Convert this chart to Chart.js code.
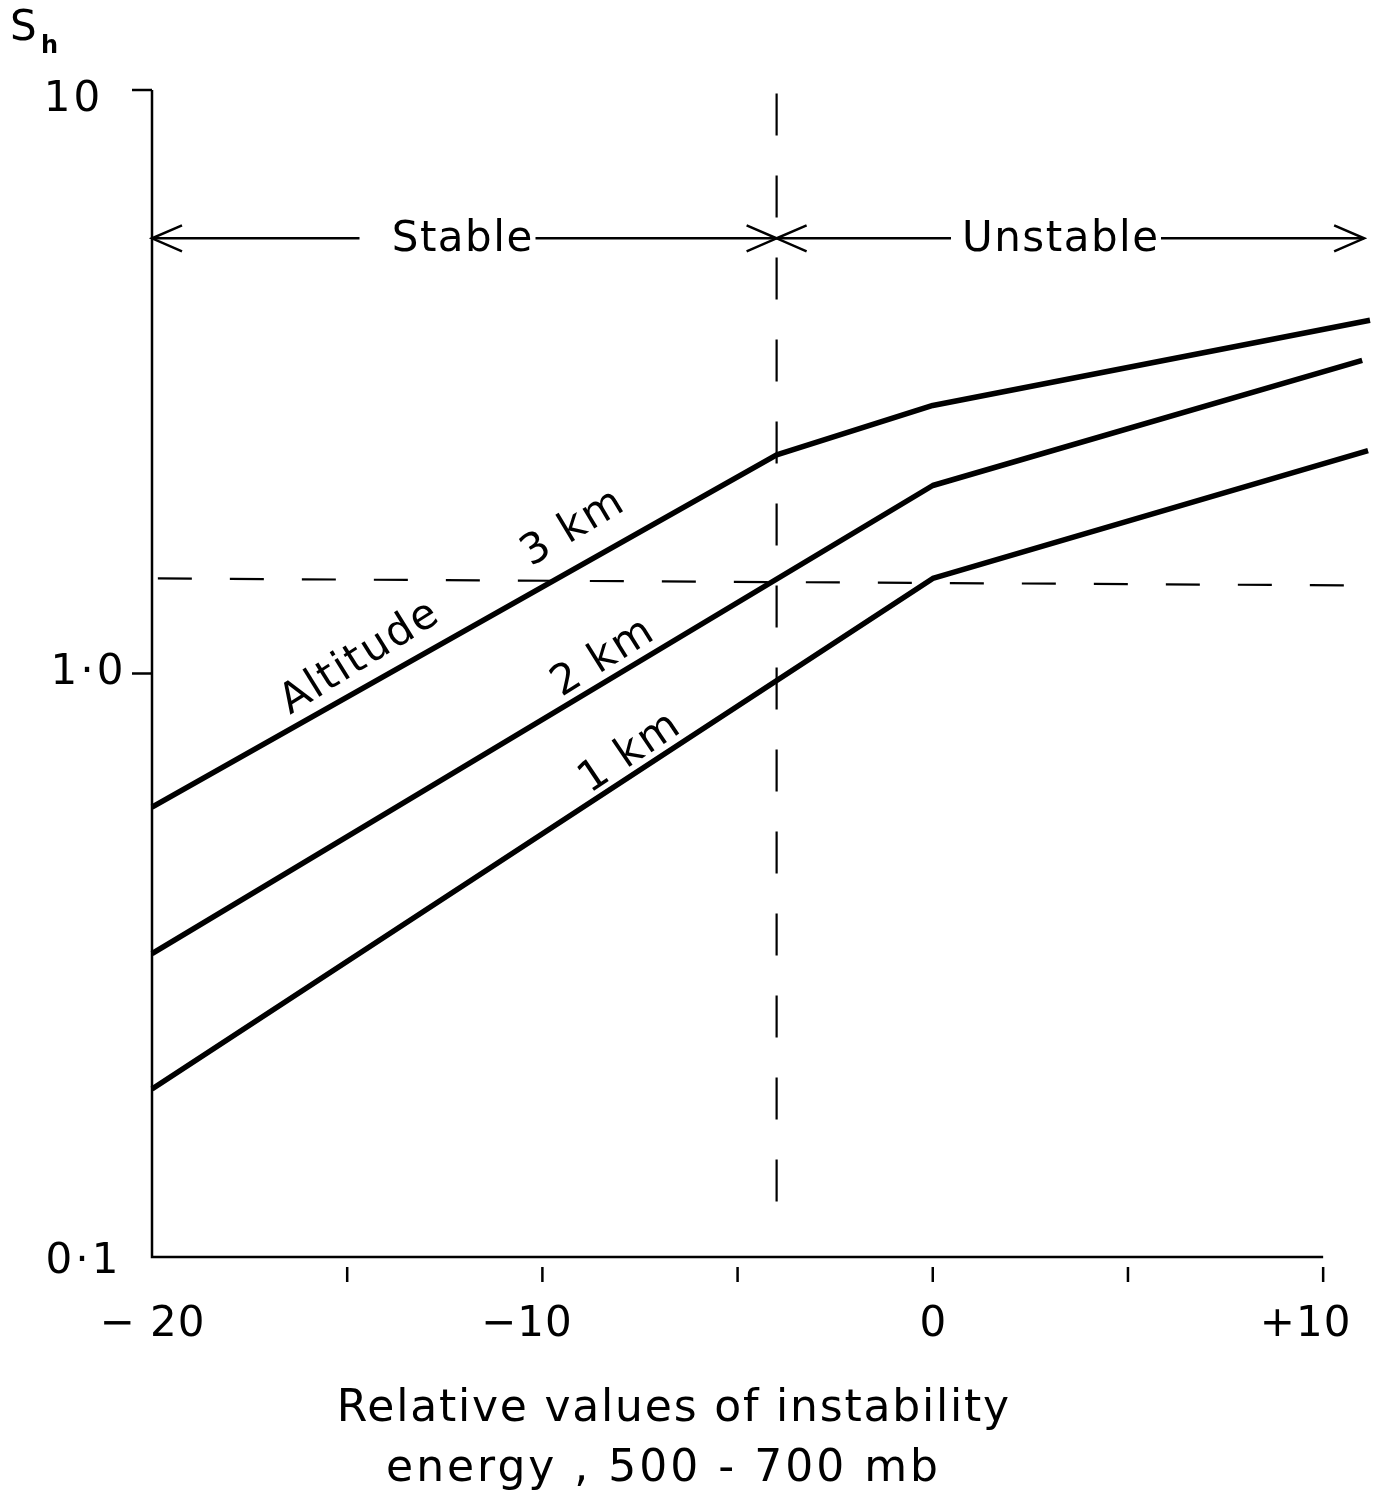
<!DOCTYPE html>
<html>
<head>
<meta charset="utf-8">
<script src="https://cdn.jsdelivr.net/npm/chart.js@4.4.1/dist/chart.umd.min.js"></script>
<style>
  html, body { margin: 0; padding: 0; background: #fff; }
  #wrap { width: 1380px; height: 1500px; position: relative; }
</style>
</head>
<body>
<div id="wrap"><canvas id="c" width="1380" height="1500"></canvas></div>
<script>
// ---- data ----
const km1X = [-20, 0, 11.15];
const km1Y = [0.194, 1.455, 2.41];
const km2X = [-20, 0, 11.0];
const km2Y = [0.331, 2.10, 3.44];
const km3X = [-20, -4, 0, 11.2];
const km3Y = [0.59, 2.37, 2.88, 4.03];

const hRefX = [-19.85, 11.15];
const hRefY = [1.455, 1.415];
const vRefX = [-4, -4];
const vRefY = [9.86, 0.108];

const xTickValues = [-20, -15, -10, -5, 0, 5, 10];
const xTickLabels = ['\u2212 20', '', '\u221210', '', '0', '', '+10'];
const yTickValues = [0.1, 1, 10];
const yTickLabels = ['0\u22c51', '1\u22c50', '10'];

const regionY = 5.57;
const stableRange = [-20, -4];
const unstableRange = [-4, 11.05];

const seriesLabels = [
  { text: 'Altitude', x: -14.68, y: 1.061, angle: -32 },
  { text: '3 km', x: -9.22, y: 1.77, angle: -31 },
  { text: '2 km', x: -8.45, y: 1.061, angle: -32 },
  { text: '1 km', x: -7.76, y: 0.729, angle: -34 }
];

const toPts = (xs, ys) => xs.map((x, i) => ({ x: x, y: ys[i] }));

const FONT = '"DejaVu Sans", sans-serif';

const solid = (data) => ({
  data: data, borderColor: '#000', borderWidth: 5.5, pointRadius: 0,
  tension: 0, fill: false, clip: false, borderCapStyle: 'butt', borderJoinStyle: 'round'
});
const dashed = (data, dash) => ({
  data: data, borderColor: '#000', borderWidth: 2.2, pointRadius: 0,
  tension: 0, fill: false, clip: false, borderDash: dash
});

const decor = {
  id: 'decor',
  afterDraw(chart) {
    const ctx = chart.ctx;
    const xs = chart.scales.x, ys = chart.scales.y;
    const X = v => xs.getPixelForValue(v);
    const Y = v => ys.getPixelForValue(v);
    const txt = (s, x, y, size, spacing, weight) => {
      ctx.font = (weight || '') + ' ' + size + 'px ' + FONT;
      ctx.letterSpacing = (spacing || 0) + 'px';
      ctx.fillText(s, x + (spacing || 0) / 2, y);
      ctx.letterSpacing = '0px';
    };
    ctx.save();
    ctx.strokeStyle = '#000';
    ctx.fillStyle = '#000';
    ctx.lineWidth = 2.5;
    ctx.lineCap = 'butt';

    // axes
    const x0 = X(-20), yb = Y(0.1), yt = Y(10), xr = X(10);
    ctx.beginPath();
    ctx.moveTo(x0, yt); ctx.lineTo(x0, yb); ctx.lineTo(xr, yb);
    ctx.stroke();

    // y ticks (pointing left)
    const yLabCenters = { 0.1: 82, 1: 87, 10: 72 };
    yTickValues.forEach((v, i) => {
      const py = Y(v);
      if (v !== 0.1) {
        ctx.beginPath(); ctx.moveTo(x0 - 20, py); ctx.lineTo(x0, py); ctx.stroke();
      }
      ctx.textAlign = 'center';
      ctx.textBaseline = 'middle';
      const off = (v === 10) ? 10 : (v === 0.1 ? 5 : 0);
      txt(yTickLabels[i], yLabCenters[v], py + off, 42, 3);
    });

    // x ticks (pointing down)
    xTickValues.forEach((v, i) => {
      const px = X(v);
      if (v !== -20) {
        ctx.beginPath(); ctx.moveTo(px, yb + 10); ctx.lineTo(px, yb + 25); ctx.stroke();
      }
      if (xTickLabels[i]) {
        ctx.textAlign = 'center';
        ctx.textBaseline = 'middle';
        let shift = 0;
        if (v === -10) shift = -16;
        if (v === 10) shift = -18;
        txt(xTickLabels[i], px + shift, yb + 68, 42, 1);
      }
    });

    // S_h
    ctx.textAlign = 'left';
    ctx.textBaseline = 'alphabetic';
    txt('S', 10, 40, 42, 0);
    ctx.font = 'bold 24px ' + FONT;
    ctx.fillText('h', 41, 53);

    // x axis title
    ctx.textAlign = 'center';
    ctx.textBaseline = 'middle';
    txt('Relative values of instability', 673, 1410, 44, 1.8);
    txt('energy , 500 - 700 mb', 662, 1470, 44, 3);

    // region arrows
    const ry = Y(regionY);
    const head = (px, dir) => {
      ctx.beginPath();
      ctx.moveTo(px - dir * 30, ry - 13); ctx.lineTo(px, ry); ctx.lineTo(px - dir * 30, ry + 13);
      ctx.stroke();
    };
    ctx.lineWidth = 2.5;
    const sL = X(stableRange[0]), sR = X(stableRange[1]);
    const uL = X(unstableRange[0]), uR = X(unstableRange[1]);
    const sMid = 462, uMid = 1060;
    const sW = 135, uW = 190;
    ctx.beginPath();
    ctx.moveTo(sL, ry); ctx.lineTo(sMid - sW / 2 - 35, ry);
    ctx.moveTo(sMid + sW / 2 + 6, ry); ctx.lineTo(sR, ry);
    ctx.moveTo(uL, ry); ctx.lineTo(uMid - uW / 2 - 14, ry);
    ctx.moveTo(uMid + uW / 2 + 6, ry); ctx.lineTo(uR, ry);
    ctx.stroke();
    head(sL, -1); head(sR, 1); head(uL, -1); head(uR, 1);
    txt('Stable', sMid, ry + 2, 42, 1.5);
    txt('Unstable', uMid, ry + 2, 42, 1.5);

    // series labels (rotated)
    seriesLabels.forEach(l => {
      ctx.save();
      ctx.translate(X(l.x), Y(l.y));
      ctx.rotate(l.angle * Math.PI / 180);
      ctx.textAlign = 'center';
      ctx.textBaseline = 'middle';
      txt(l.text, 0, 0, 42, 2);
      ctx.restore();
    });
    ctx.restore();
  }
};

new Chart(document.getElementById('c'), {
  type: 'line',
  data: {
    datasets: [
      solid(toPts(km1X, km1Y)),
      solid(toPts(km2X, km2Y)),
      solid(toPts(km3X, km3Y)),
      dashed(toPts(hRefX, hRefY), [34, 38]),
      dashed(toPts(vRefX, vRefY), [42, 40])
    ]
  },
  options: {
    responsive: false,
    animation: false,
    devicePixelRatio: 1,
    layout: { padding: { left: 152, right: 10, top: 90, bottom: 243 } },
    plugins: { legend: { display: false }, tooltip: { enabled: false } },
    scales: {
      x: { type: 'linear', min: -20, max: 11.2, display: false },
      y: { type: 'logarithmic', min: 0.1, max: 10, display: false }
    }
  },
  plugins: [decor]
});
</script>
</body>
</html>
